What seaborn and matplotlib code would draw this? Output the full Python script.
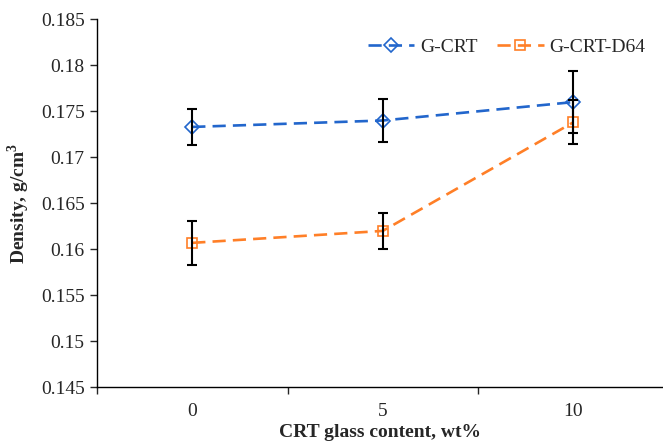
import matplotlib
matplotlib.use("Agg")
import matplotlib.pyplot as plt
import numpy as np
import pandas as pd
import seaborn as sns

CATEGORIES = ["0", "5", "10"]
SERIES = ["G-CRT", "G-CRT-D64"]
G_CRT = [0.1733, 0.1740, 0.1760]
G_CRT_ERR = [0.0020, 0.0023, 0.0034]
G_CRT_D64 = [0.1607, 0.1620, 0.1738]
G_CRT_D64_ERR = [0.0024, 0.0020, 0.0024]
Y_TICKS = [0.145, 0.15, 0.155, 0.16, 0.165, 0.17, 0.175, 0.18, 0.185]
Y_TICK_LABELS = ["0.145", "0.15", "0.155", "0.16", "0.165", "0.17", "0.175", "0.18", "0.185"]

COLORS = {"G-CRT": "#2266cc", "G-CRT-D64": "#ff7f27"}
MARKERS = {"G-CRT": "D", "G-CRT-D64": "s"}
DASH = (5.0, 2.7)


def build_frame() -> pd.DataFrame:
	rows = []
	for name, vals, errs in [("G-CRT", G_CRT, G_CRT_ERR), ("G-CRT-D64", G_CRT_D64, G_CRT_D64_ERR)]:
		for i, (v, e) in enumerate(zip(vals, errs)):
			rows.append({"pos": i, "content": CATEGORIES[i], "density": v, "err": e, "series": name})
	return pd.DataFrame(rows)


def main() -> None:
	df = build_frame()

	sns.set_theme(style="ticks")
	plt.rcParams["font.family"] = ["Liberation Serif", "DejaVu Serif"]
	plt.rcParams["mathtext.fontset"] = "custom"
	plt.rcParams["mathtext.rm"] = "Liberation Serif"
	plt.rcParams["mathtext.bf"] = "Liberation Serif:bold"

	fig = plt.figure(figsize=(6.63, 4.48), dpi=100)
	ax = fig.add_axes([97 / 663, 60.7 / 448, 1 - 97 / 663, 368 / 448])

	sns.lineplot(
		data=df,
		x="pos",
		y="density",
		hue="series",
		style="series",
		palette=COLORS,
		markers=MARKERS,
		dashes={"G-CRT": DASH, "G-CRT-D64": DASH},
		linewidth=1.9,
		markersize=7.5,
		markeredgewidth=1.2,
		errorbar=None,
		ax=ax,
		zorder=2,
	)
	for line in ax.lines:
		line.set_markerfacecolor("none")
		line.set_markeredgecolor(line.get_color())

	for name in SERIES:
		sub = df[df["series"] == name]
		ax.errorbar(sub["pos"], sub["density"], yerr=sub["err"], fmt="none",
			ecolor="black", elinewidth=1.5, capsize=3.3, capthick=1.5, zorder=3)

	ax.set_xlim(-0.5, 2.471)
	ax.set_ylim(0.145, 0.185)
	ax.set_yticks(Y_TICKS)
	ax.set_yticklabels(Y_TICK_LABELS)
	ax.set_xticks(range(len(CATEGORIES)))
	ax.set_xticklabels(CATEGORIES)
	ax.set_xticks([-0.5, 0.5, 1.5], minor=True)
	ax.tick_params(axis="x", which="major", length=0, pad=11, labelsize=14)
	ax.tick_params(axis="x", which="minor", length=5, width=1, direction="out")
	ax.tick_params(axis="y", length=5, width=1, direction="out", labelsize=14, pad=4)

	sns.despine(ax=ax)
	for side in ["left", "bottom"]:
		ax.spines[side].set_linewidth(1)
		ax.spines[side].set_color("black")

	ax.set_xlabel("CRT glass content, wt%", fontsize=14, fontweight="bold", labelpad=3)
	ax.set_ylabel("Density, g/cm$^\\mathbf{3}$", fontsize=14, fontweight="bold", labelpad=6)

	handles, labels = ax.get_legend_handles_labels()
	ax.legend(handles, labels, loc="upper right", bbox_to_anchor=(1.0, 0.995), ncol=2,
		frameon=False, fontsize=14, handlelength=2.4, columnspacing=1.0, handletextpad=0.3,
		bbox_transform=ax.transAxes)

	fig.savefig("out.png", dpi=100)
	plt.close(fig)


if __name__ == "__main__":
	main()
